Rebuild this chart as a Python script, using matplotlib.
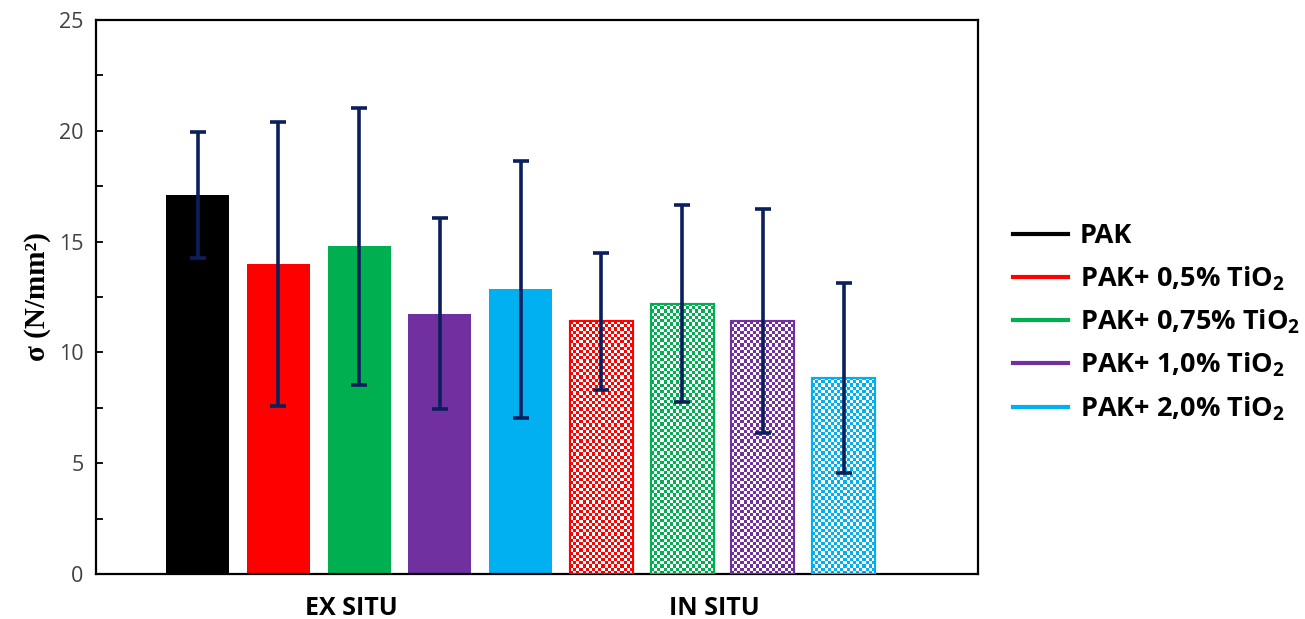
import numpy as np
import matplotlib.pyplot as plt
from matplotlib.lines import Line2D

plt.rcParams["font.family"] = ["Open Sans", "DejaVu Sans"]
plt.rcParams["mathtext.fontset"] = "custom"
plt.rcParams["mathtext.bf"] = "Open Sans:bold"
plt.rcParams["mathtext.rm"] = "Open Sans"

# data
series = ["PAK", "PAK+ 0,5% TiO$\\mathbf{_2}$", "PAK+ 0,75% TiO$\\mathbf{_2}$",
          "PAK+ 1,0% TiO$\\mathbf{_2}$", "PAK+ 2,0% TiO$\\mathbf{_2}$"]
colors = ["#000000", "#FF0000", "#00B050", "#7030A0", "#00B0F0"]
ex_situ = [17.1, 14.0, 14.8, 11.75, 12.85]
ex_situ_err = [2.85, 6.4, 6.25, 4.3, 5.8]
in_situ = [11.4, 12.2, 11.4, 8.85]
in_situ_err = [3.1, 4.45, 5.05, 4.3]
in_situ_colors = colors[1:]
groups = ["EX SITU", "IN SITU"]

err_color = "#0B1F5C"

fig = plt.figure(figsize=(13.05, 6.19), dpi=100)
ax = fig.add_axes([0.0736, 0.0727, 0.6755, 0.8950])

width = 0.78
x_ex = np.arange(len(ex_situ))
x_in = np.arange(len(in_situ)) + len(ex_situ)

ax.set_xlim(-1.26, 9.66)
ax.set_ylim(0, 25)

# solid bars (ex situ)
ax.bar(x_ex, ex_situ, width=width, color=colors, zorder=2)

# checker-filled bars (in situ)
bars = ax.bar(x_in, in_situ, width=width, facecolor="white",
              edgecolor=in_situ_colors, linewidth=1.5, zorder=2)
px_x = ax.transData.transform((1, 0))[0] - ax.transData.transform((0, 0))[0]
px_y = ax.transData.transform((0, 1))[1] - ax.transData.transform((0, 0))[1]
cell = 3.2
for b, c in zip(bars, in_situ_colors):
    x0, w, h = b.get_x(), b.get_width(), b.get_height()
    nx = max(1, int(round(w * px_x / cell)))
    ny = max(1, int(round(h * px_y / cell)))
    rgb = np.array(plt.matplotlib.colors.to_rgb(c))
    grid = (np.add.outer(np.arange(ny), np.arange(nx)) % 2).astype(float)
    img = np.ones((ny, nx, 3))
    img[grid == 0] = rgb
    im = ax.imshow(img, extent=(x0, x0 + w, 0, h), interpolation="nearest",
                   aspect="auto", zorder=2.5)
    im.set_clip_path(b)
    ax.add_patch(plt.Rectangle((x0, 0), w, h, fill=False, edgecolor=c,
                               linewidth=1.5, zorder=2.6))

ax.set_xlim(-1.26, 9.66)
ax.set_ylim(0, 25)

# error bars
ax.errorbar(np.concatenate([x_ex, x_in]), ex_situ + in_situ,
            yerr=ex_situ_err + in_situ_err, fmt="none", ecolor=err_color,
            elinewidth=2.6, capsize=5.5, capthick=2.6, zorder=4)

# axes styling
for s in ax.spines.values():
    s.set_linewidth(1.6)
    s.set_color("black")
ax.set_yticks(np.arange(0, 26, 5))
ax.set_yticks(np.arange(2.5, 25, 5), minor=True)
ax.tick_params(axis="y", which="both", direction="in", length=5, width=1.3,
               labelsize=15.5, labelcolor="#404040", pad=9)
ax.set_xticks([1.9, 6.4])
ax.set_xticklabels(groups, fontsize=18, fontweight="bold")
ax.tick_params(axis="x", length=0, pad=16)

ax.set_ylabel("σ (N/mm²)", fontsize=21, fontweight="bold",
              family=["Liberation Serif", "DejaVu Serif"], labelpad=6)

# legend
handles = [Line2D([0], [0], color=c, lw=3) for c in colors]
ax.legend(handles, series, loc="center left", bbox_to_anchor=(1.013, 0.453),
          frameon=False, handlelength=2.0, handletextpad=0.45,
          labelspacing=0.55, prop={"size": 19.5, "weight": "bold"})

fig.savefig("out.png", dpi=100)
